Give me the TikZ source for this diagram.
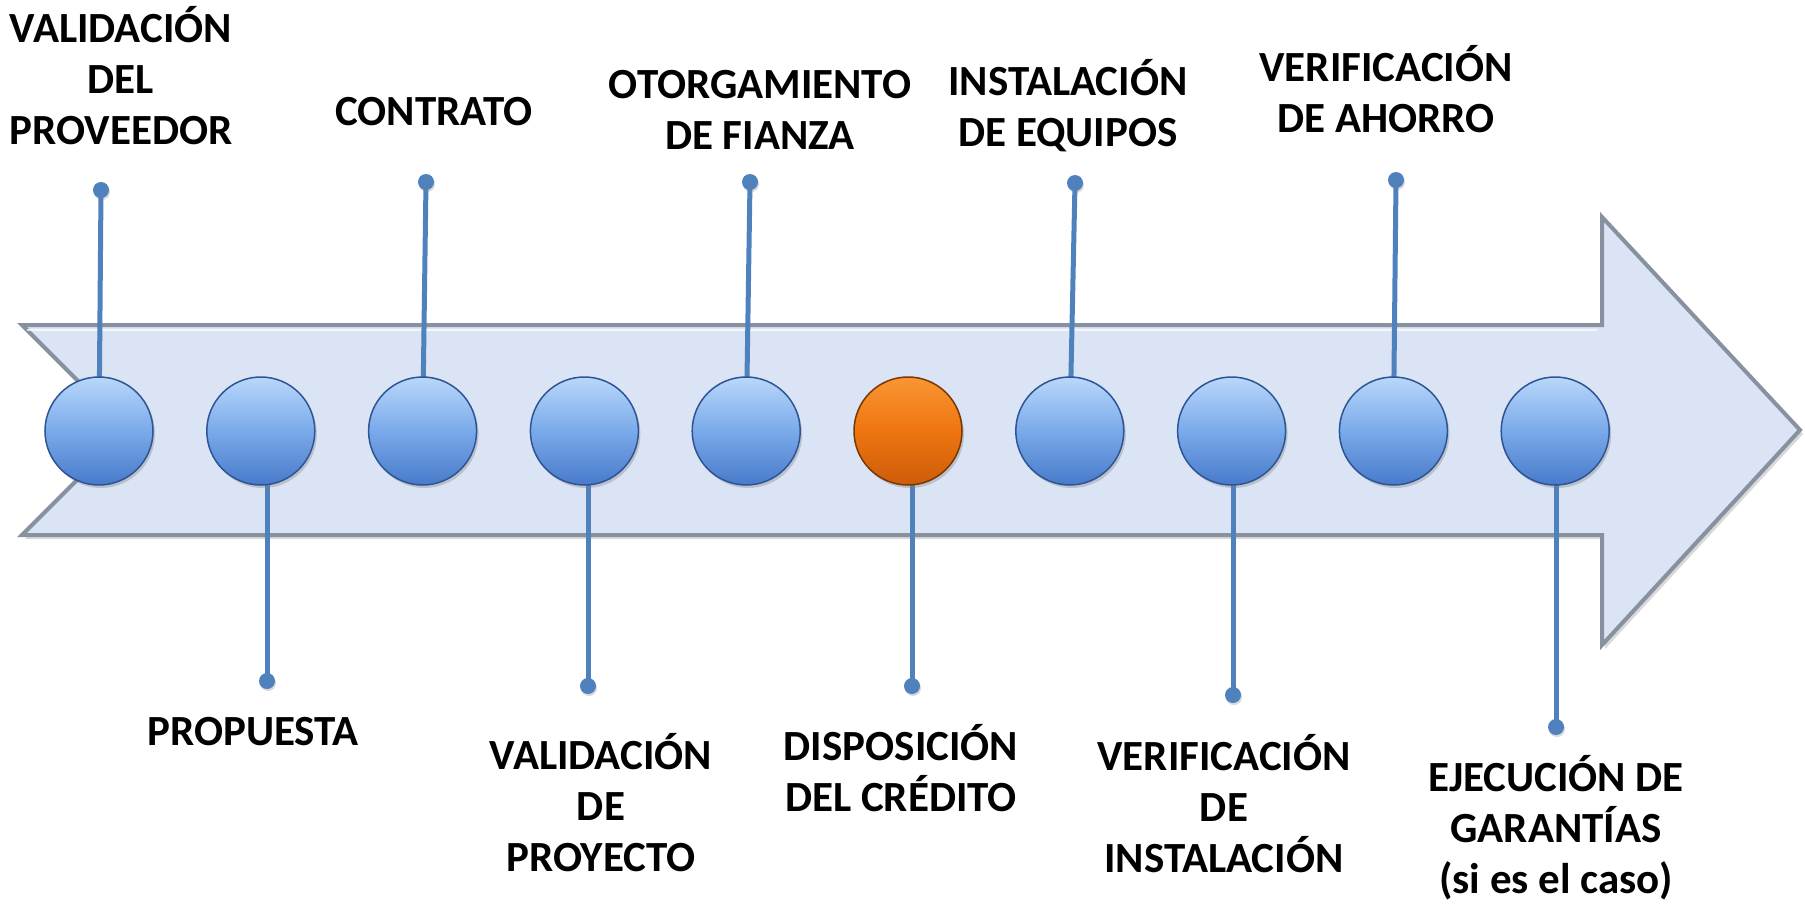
\documentclass[tikz,border=0pt]{standalone}
\usepackage{fontspec}
\setmainfont{Carlito}
\usetikzlibrary{shadows}
\definecolor{arrowfill}{RGB}{219,228,244}
\definecolor{arrowedge}{RGB}{135,145,160}
\definecolor{linec}{RGB}{79,129,189}
\definecolor{ballhi}{RGB}{185,215,250}
\definecolor{ballmid}{RGB}{122,170,234}
\definecolor{balllo}{RGB}{72,122,202}
\definecolor{ballrim}{RGB}{45,85,150}
\definecolor{orhi}{RGB}{250,150,50}
\definecolor{ormid}{RGB}{238,117,16}
\definecolor{orlo}{RGB}{205,92,10}
\definecolor{orrim}{RGB}{120,55,5}
\pgfdeclarelayer{arrowlayer}
\pgfdeclarelayer{linelayer}
\pgfsetlayers{arrowlayer,linelayer,main}
\begin{document}
\begin{tikzpicture}[x=1pt,y=-1pt,
  ball/.style={circle, minimum size=108pt, inner sep=0pt, draw=ballrim, line width=1.5pt,
    top color=ballhi, bottom color=balllo, middle color=ballmid,
    drop shadow={shadow xshift=2pt, shadow yshift=-3pt, opacity=0.35}},
  orball/.style={ball, draw=orrim, top color=orhi, bottom color=orlo, middle color=ormid},
  dotnode/.style={circle, minimum size=16pt, inner sep=0pt, fill=linec,
    drop shadow={shadow xshift=1pt, shadow yshift=-2pt, opacity=0.3}},
  conn/.style={draw=linec, line width=5pt},
  lbl/.style={font=\bfseries\fontsize{43}{51}\selectfont, align=center, inner sep=0pt}]
\useasboundingbox (0,0) rectangle (1805,903);
% main arrow
\begin{pgfonlayer}{arrowlayer}
\draw[draw=arrowedge, line width=4pt, fill=arrowfill, line join=miter,
  drop shadow={shadow xshift=3pt, shadow yshift=-4pt, opacity=0.3}]
  (22,325) -- (1602,325) -- (1602,217) -- (1800,430) -- (1602,645) -- (1602,535)
  -- (22,535) -- (127,430) -- cycle;
\draw[white, line width=2pt, opacity=0.7] (27,330) -- (1597,330);
\end{pgfonlayer}
% circles
\node[ball]   (c1)  at (99,431) {};
\node[ball]   (c2)  at (260.8,431) {};
\node[ball]   (c3)  at (422.6,431) {};
\node[ball]   (c4)  at (584.4,431) {};
\node[ball]   (c5)  at (746.2,431) {};
\node[orball] (c6)  at (908,431) {};
\node[ball]   (c7)  at (1069.8,431) {};
\node[ball]   (c8)  at (1231.6,431) {};
\node[ball]   (c9)  at (1393.4,431) {};
\node[ball]   (c10) at (1555.2,431) {};
% dots
\node[dotnode] (d1)  at (101,190) {};
\node[dotnode] (d2)  at (267,681) {};
\node[dotnode] (d3)  at (426,182) {};
\node[dotnode] (d4)  at (588,686) {};
\node[dotnode] (d5)  at (750,182) {};
\node[dotnode] (d6)  at (912,686) {};
\node[dotnode] (d7)  at (1075,183) {};
\node[dotnode] (d8)  at (1233,695) {};
\node[dotnode] (d9)  at (1396,180) {};
\node[dotnode] (d10) at (1556,727) {};
% connectors
\begin{pgfonlayer}{linelayer}
\draw[conn] (d1.center) -- (c1.center);
\draw[conn] (c2.center -| d2) -- (d2.center);
\draw[conn] (d3.center) -- (c3.center);
\draw[conn] (c4.center -| d4) -- (d4.center);
\draw[conn] (d5.center) -- (c5.center);
\draw[conn] (c6.center -| d6) -- (d6.center);
\draw[conn] (d7.center) -- (c7.center);
\draw[conn] (c8.center -| d8) -- (d8.center);
\draw[conn] (d9.center) -- (c9.center);
\draw[conn] (c10.center -| d10) -- (d10.center);
\end{pgfonlayer}
% labels
\node[lbl] (t1)  at (121,76)  {VALIDACIÓN\\DEL\\PROVEEDOR};
\node[lbl] (t2)  at (253,732)   {PROPUESTA};
\node[lbl] (t3)  at (434,112)   {CONTRATO};
\node[lbl] (t4)  at (601,803)   {VALIDACIÓN\\DE\\PROYECTO};
\node[lbl] (t5)  at (760,109.5) {OTORGAMIENTO\\DE FIANZA};
\node[lbl] (t6)  at (901,768.5) {DISPOSICIÓN\\DEL CRÉDITO};
\node[lbl] (t7)  at (1068,105.5) {INSTALACIÓN\\DE EQUIPOS};
\node[lbl] (t8)  at (1224,804)  {VERIFICACIÓN\\DE\\INSTALACIÓN};
\node[lbl] (t9)  at (1386,89.5) {VERIFICACIÓN\\DE AHORRO};
\node[lbl] (t10) at (1556,828) {EJECUCIÓN DE\\GARANTÍAS\\(si es el caso)};
\end{tikzpicture}
\end{document}
